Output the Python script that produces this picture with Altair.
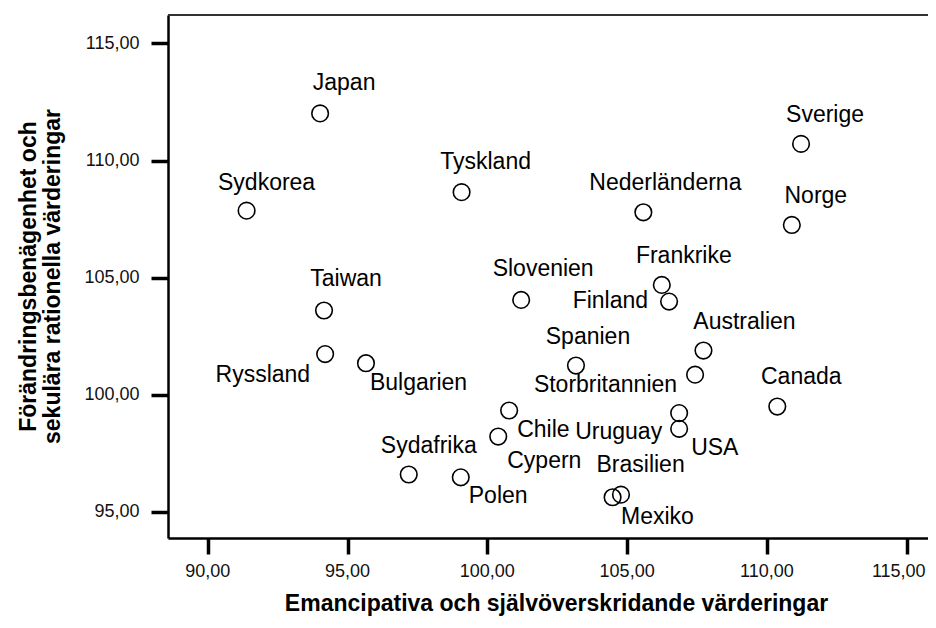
import altair as alt
import pandas as pd

# ---- data ----
countries = ["Japan", "Sydkorea", "Tyskland", "Taiwan", "Slovenien", "Nederländerna",
             "Sverige", "Norge", "Frankrike", "Finland", "Ryssland", "Bulgarien",
             "Spanien", "Storbritannien", "Chile", "Cypern", "Uruguay", "USA",
             "Brasilien", "Mexiko", "Sydafrika", "Polen", "Australien", "Canada"]
emancipativa = [94.02, 91.39, 99.08, 94.16, 101.21, 105.58,
                111.22, 110.89, 106.24, 106.50, 94.20, 95.66,
                103.17, 107.43, 100.78, 100.39, 106.86, 106.86,
                104.48, 104.78, 97.19, 99.05, 107.73, 110.37]
sekulara = [112.01, 107.86, 108.65, 103.60, 104.05, 107.79,
            110.71, 107.25, 104.69, 103.98, 101.74, 101.35,
            101.25, 100.86, 99.33, 98.22, 99.22, 98.55,
            95.63, 95.74, 96.60, 96.48, 101.89, 99.50]

x_ticks = [90, 95, 100, 105, 110, 115]
y_ticks = [95, 100, 105, 110, 115]
x_title = "Emancipativa och självöverskridande värderingar"
y_title = ["Förändringsbenägenhet och", "sekulära rationella värderingar"]

# ---- layout / style ----
W, H = 760, 523
X_DOMAIN = [88.58, 115.76]
Y_DOMAIN = [93.89, 116.21]
FONT = "Liberation Sans"

# label placement: (align, dx, dy) relative to the point
label_pos = {
    "Japan": ("center", 24, -30), "Sydkorea": ("center", 20, -28),
    "Tyskland": ("center", 24, -30), "Taiwan": ("center", 22, -31),
    "Slovenien": ("center", 22, -31), "Nederländerna": ("center", 22, -29),
    "Sverige": ("center", 24, -29), "Norge": ("center", 24, -29),
    "Frankrike": ("center", 22, -29), "Finland": ("right", -21, -1),
    "Ryssland": ("right", -15, 21), "Bulgarien": ("left", 4, 20),
    "Spanien": ("center", 12, -29), "Storbritannien": ("right", -18, 10),
    "Chile": ("left", 8, 19), "Cypern": ("left", 9, 24),
    "Uruguay": ("right", -17, 19), "USA": ("left", 12, 19),
    "Brasilien": ("center", 28, -32), "Mexiko": ("left", 0, 22),
    "Sydafrika": ("center", 20, -28), "Polen": ("left", 8, 19),
    "Australien": ("center", 41, -29), "Canada": ("center", 24, -30),
}

df = pd.DataFrame({"land": countries, "x": emancipativa, "y": sekulara})
ticks_df = pd.DataFrame({"t": x_ticks})

label_expr = "replace(format(datum.value, '.2f'), '.', ',')"
x_scale = alt.Scale(domain=X_DOMAIN, nice=False, zero=False)

x_enc = alt.X("x:Q", scale=x_scale,
              axis=alt.Axis(values=x_ticks, labels=False, title=x_title,
                            grid=False, tickSize=16, tickWidth=3.5, domainWidth=2.5,
                            domainColor="black", tickColor="black",
                            titleFont=FONT, titleFontSize=23,
                            titleFontWeight="bold", titleColor="black",
                            titleX=388, titleY=54, titleBaseline="top"))
y_enc = alt.Y("y:Q", scale=alt.Scale(domain=Y_DOMAIN, nice=False, zero=False),
              axis=alt.Axis(values=y_ticks, labelExpr=label_expr, title=y_title,
                            grid=False, tickSize=17, tickWidth=3.5, domainWidth=2.5,
                            domainColor="black", tickColor="black",
                            labelFont=FONT, labelFontSize=18, labelColor="#111",
                            labelPadding=12, titleFont=FONT, titleFontSize=23,
                            titleFontWeight="bold", titleColor="black",
                            titleLineHeight=24, titleX=-128, titleY=261,
                            titleAngle=-90, titleBaseline="bottom", titleAlign="center"))

base = alt.Chart(df)

points = base.mark_point(shape="circle", filled=False, size=275, stroke="black",
                         strokeWidth=1.6, opacity=1).encode(x=x_enc, y=y_enc)

layers = [points]
for name, (align, dx, dy) in label_pos.items():
    layers.append(
        base.transform_filter(alt.datum.land == name)
        .mark_text(align=align, baseline="middle", dx=dx, dy=dy, font=FONT,
                   fontSize=23, color="black")
        .encode(x="x:Q", y="y:Q", text="land:N")
    )

# x tick labels as text (last one nudged so it stays inside the page)
tick_base = alt.Chart(ticks_df).transform_calculate(
    lab="replace(format(datum.t, '.2f'), '.', ',')")
for cond, dx in [("datum.t < 115", 0), ("datum.t >= 115", -8)]:
    layers.append(
        tick_base.transform_filter(cond)
        .mark_text(align="center", baseline="middle", dx=dx, dy=34, font=FONT,
                   fontSize=18, color="#111")
        .encode(x=alt.X("t:Q", scale=x_scale), y=alt.value(H), text="lab:N")
    )

top_line = alt.Chart(pd.DataFrame({"a": [0]})).mark_rule(
    color="#333", strokeWidth=2).encode(x=alt.value(0), x2=alt.value(W), y=alt.value(0))
layers.append(top_line)

chart = alt.layer(*layers).properties(
    width=W, height=H,
    autosize=alt.AutoSizeParams(type="none"),
    padding={"left": 160, "top": 7, "right": 0, "bottom": 82},
).configure_view(stroke=None).configure(background="white")

chart.save("out.html", embed_options={"renderer": "svg", "actions": False})
